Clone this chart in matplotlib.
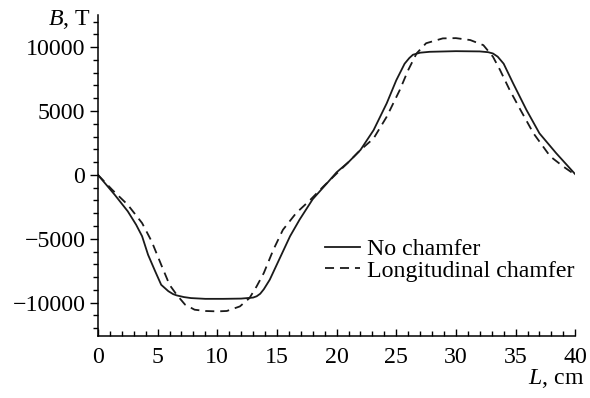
import numpy as np
import matplotlib
matplotlib.use("Agg")
import matplotlib.pyplot as plt
from matplotlib.ticker import MultipleLocator

plt.rcParams['font.family'] = ['Liberation Serif', 'DejaVu Serif']
plt.rcParams['mathtext.fontset'] = 'custom'
plt.rcParams['mathtext.rm'] = 'Liberation Serif'
plt.rcParams['mathtext.it'] = 'Liberation Serif:italic'

# values
L_no = [0, 1.4, 2.5, 3.2, 3.7, 4.2, 4.8, 5.3, 5.9, 6.3, 6.6, 7.2, 7.8, 9, 10.5,
        12, 13, 13.3, 13.6, 13.9, 14.4, 15.3, 16.1, 16.9, 18.0, 19.2, 20.0,
        21.0, 22.0, 23.1, 24.2, 25.0, 25.7, 26.1, 26.4, 27.0, 27.8, 30.0, 32.0,
        32.7, 33.1, 33.5, 34.0, 34.8, 35.9, 37.0, 38.4, 40]
B_no = [0, -1550, -2850, -3900, -4800, -6250, -7550, -8600, -9100, -9330,
        -9430, -9560, -9640, -9700, -9700, -9680, -9600, -9500, -9300, -8950,
        -8200, -6400, -4800, -3500, -1900, -650, 200, 1000, 1950, 3500, 5600,
        7400, 8700, 9150, 9400, 9560, 9630, 9680, 9660, 9600, 9500, 9250, 8700,
        7150, 5100, 3250, 1700, 50]

L_ch = [0, 1.2, 2.5, 3.7, 4.5, 5.3, 6.0, 6.6, 7.3, 8.1, 9.0, 10.0, 10.8, 11.9,
        12.7, 13.3, 13.9, 14.7, 15.5, 16.6, 17.8, 18.9, 20.0, 21.0, 22.0, 23.1,
        24.2, 25.3, 26.0, 26.7, 27.5, 28.9, 30.0, 31.2, 32.3, 33.1, 33.7, 34.5,
        35.4, 36.5, 37.9, 39.0, 40]
B_ch = [0, -1170, -2340, -3770, -5200, -7030, -8600, -9380, -10150, -10550,
        -10650, -10680, -10650, -10290, -9640, -8720, -7680, -5860, -4300,
        -3000, -1950, -900, 100, 1000, 1950, 2850, 4550, 6650, 8200, 9500,
        10300, 10680, 10700, 10550, 10150, 9250, 8200, 6650, 5100, 3250, 1450,
        650, 0]

fs = 17.2
fig = plt.figure(figsize=(5.9, 3.98), dpi=100)
ax = fig.add_axes([0.166, 0.156, 0.809, 0.806])

ax.plot(L_no, B_no, color='#1a1a1a', lw=1.3, label='No chamfer')
ax.plot(L_ch, B_ch, color='#1a1a1a', lw=1.3, dashes=(5, 3.3),
        label='Longitudinal chamfer')

ax.set_xlim(0, 40)
ax.set_ylim(-12600, 12500)
ax.spines['top'].set_visible(False)
ax.spines['right'].set_visible(False)
for s in ('left', 'bottom'):
    ax.spines[s].set_linewidth(1.1)

ax.xaxis.set_major_locator(MultipleLocator(5))
ax.xaxis.set_minor_locator(MultipleLocator(1))
ax.yaxis.set_major_locator(MultipleLocator(5000))
ax.yaxis.set_minor_locator(MultipleLocator(1000))
ax.yaxis.set_major_formatter(lambda v, p: f"{int(v)}".replace('-', '\u2212'))

ax.tick_params(axis='x', which='both', direction='in', labelsize=fs, width=1.0)
ax.tick_params(axis='x', which='major', length=5, pad=8)
ax.tick_params(axis='x', which='minor', length=3.5)
ax.tick_params(axis='y', which='both', direction='out', labelsize=fs, width=1.0)
ax.tick_params(axis='y', which='major', length=6, pad=3)
ax.tick_params(axis='y', which='minor', length=3.5)

fig.text(0.153, 0.95, '$B$, T', ha='right', va='center', fontsize=fs)
fig.text(0.991, 0.048, '$L$, cm', ha='right', va='center', fontsize=fs)

ax.legend(loc='center left', bbox_to_anchor=(0.551, 0.347),
          bbox_transform=fig.transFigure, frameon=False, fontsize=fs,
          borderpad=0, borderaxespad=0, handlelength=1.45, handletextpad=0.3,
          labelspacing=0.0)

fig.savefig('out.png', dpi=100)
